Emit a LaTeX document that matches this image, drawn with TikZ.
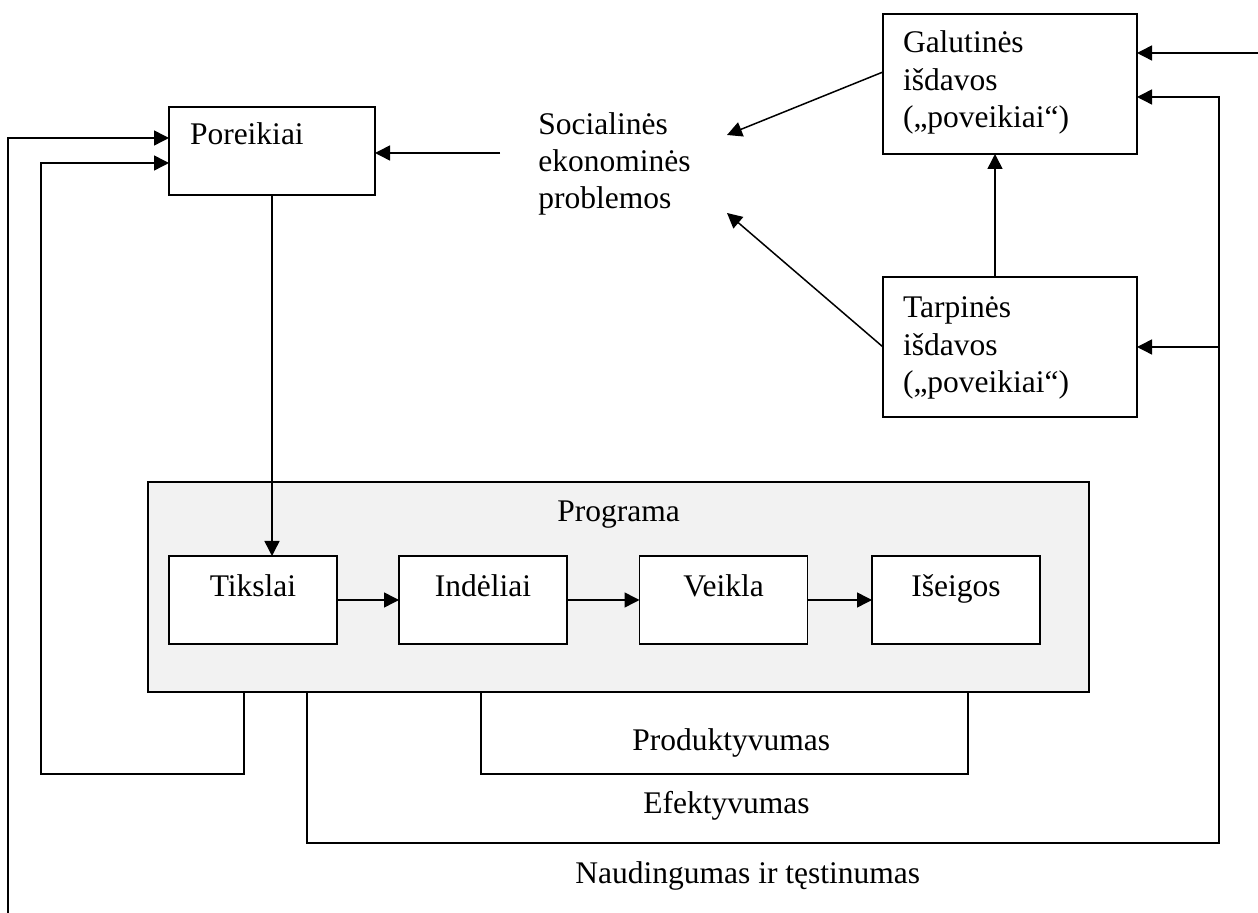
\documentclass[tikz,border=0pt]{standalone}
\usepackage{fontspec}
\setmainfont{Liberation Serif}
\usetikzlibrary{arrows.meta, positioning, calc}
\definecolor{progfill}{RGB}{242,242,242}
\tikzset{
    txt/.style={inner sep=0pt, align=left, font=\fontsize{15.75pt}{18.6pt}\selectfont},
    box/.style={rectangle, draw, line width=0.8pt, fill=white, inner sep=0pt, outer sep=0pt, font=\fontsize{15.75pt}{18.6pt}\selectfont},
    small box/.style={box, minimum width=84pt, minimum height=44pt, align=center, text height=6pt, text depth=9pt},
    result box/.style={box, minimum width=127pt, minimum height=70pt, inner xsep=10pt, text width=107pt, align=left, text height=10pt},
    arr/.style={-{Triangle[length=7.5pt, width=7.5pt]}, line width=0.75pt},
    ln/.style={line width=0.75pt}
}

\begin{document}
\begin{tikzpicture}[x=0.5pt, y=-0.5pt]
    \useasboundingbox (0,0) rectangle (1258,913);

    % Program frame
    \node[box, fill=progfill, minimum width=470.5pt, minimum height=105pt] (program) at (618.5,587) {};
    \node[txt, anchor=base west] (program_t) at (557,522) {Programa};

    % Boxes
    \node[box, minimum width=103pt, minimum height=44pt, inner xsep=10.5pt, text width=82pt, align=left, text height=6pt, text depth=12pt] (needs) at (272,151) {Poreikiai};
    \node[small box] (goals) at (253,600) {Tikslai};
    \node[small box] (inputs) at (483,600) {Indėliai};
    \node[small box] (activity) at (723.5,600) {Veikla};
    \node[small box] (outputs) at (956,600) {Išeigos};
    \node[result box, text depth=41pt] (final) at (1010,84) {Galutinės\\išdavos\\(„poveikiai“)};
    \node[result box, text depth=39pt] (interim) at (1010,347) {Tarpinės\\išdavos\\(„poveikiai“)};

    % Free text
    \node[txt, anchor=base west] (problems) at (538,209) {Socialinės\\ekonominės\\problemos};
    \node[txt, anchor=base west] (prod_t) at (632,750) {Produktyvumas};
    \node[txt, anchor=base west] (eff_t) at (643,813) {Efektyvumas};
    \node[txt, anchor=base west] (use_t) at (575,883) {Naudingumas ir tęstinumas};

    % Connector ends
    \coordinate (soc_a) at (727,135);
    \coordinate (soc_b) at (727,213);
    \coordinate (soc_c) at (500,153);
    \coordinate (in_r) at (1258,53);
    \coordinate (in_l) at (8,913);
    \coordinate (p1) at (program.south -| 244,0);
    \coordinate (p2) at (program.south -| 307,0);
    \coordinate (p3) at (program.south -| 481,0);
    \coordinate (p4) at (program.south -| 968,0);

    % Links
    \draw[arr] (soc_c) -- (needs.east |- soc_c);
    \draw[arr] ([yshift=6pt]final.west) -- (soc_a);
    \draw[arr] (interim.west) -- (soc_b);
    \draw[arr] ([xshift=-7.5pt]interim.north) -- ([xshift=-7.5pt]final.south);
    \draw[arr] (in_r) -- (final.east |- in_r);
    \draw[arr] (needs.south) -- (needs.south |- goals.north);
    \draw[arr] (goals) -- (inputs);
    \draw[arr] (inputs) -- (activity);
    \draw[arr] (activity) -- (outputs);

    % Feedback lines
    \draw[arr] (in_l) |- ([yshift=6.5pt]needs.west);
    \draw[arr] (p1) |- (41,774) |- ([yshift=-6pt]needs.west);
    \draw[ln] (p3) |- (968,774) -- (p4);
    \draw[arr] (p2) |- (1219,843) |- ([yshift=-6.5pt]final.east);
    \draw[arr] (interim.east -| 1219,0) -- (interim.east);
\end{tikzpicture}
\end{document}
